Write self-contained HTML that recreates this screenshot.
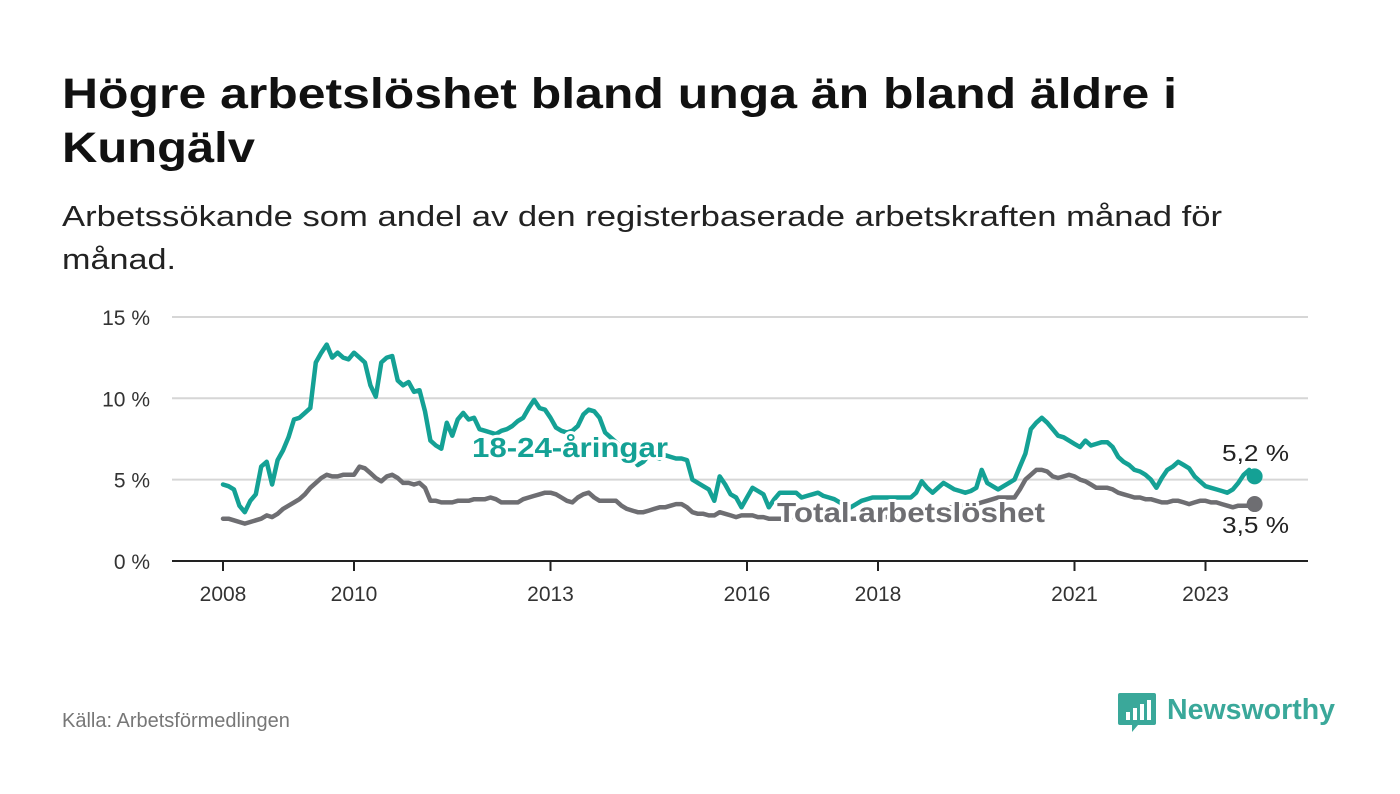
<!DOCTYPE html>
<html><head><meta charset="utf-8"><style>
html,body{margin:0;padding:0;background:#fff;}
svg{display:block;font-family:"Liberation Sans",sans-serif;}
</style></head><body>
<svg id="chart" width="1400" height="794" viewBox="0 0 1400 794" xmlns="http://www.w3.org/2000/svg">
<text x="62" y="108" font-size="43" font-weight="bold" fill="#111" textLength="1115" lengthAdjust="spacingAndGlyphs">Högre arbetslöshet bland unga än bland äldre i</text>
<text x="62" y="162" font-size="43" font-weight="bold" fill="#111" textLength="193" lengthAdjust="spacingAndGlyphs">Kungälv</text>
<text x="62" y="226" font-size="29" fill="#222" textLength="1160" lengthAdjust="spacingAndGlyphs">Arbetssökande som andel av den registerbaserade arbetskraften månad för</text>
<text x="62" y="269" font-size="29" fill="#222" textLength="114" lengthAdjust="spacingAndGlyphs">månad.</text>
<g id="grid"></g>
<g id="xaxis"></g>
<g id="series"></g>
<g id="labels"></g>
<text x="62" y="727" font-size="20" fill="#777">Källa: Arbetsförmedlingen</text>
<g>
<path d="M1120 693 h34 a2 2 0 0 1 2 2 v28 a2 2 0 0 1 -2 2 h-16 l-6 7 v-7 h-12 a2 2 0 0 1 -2 -2 v-28 a2 2 0 0 1 2 -2z" fill="#3aa89a"/>
<rect x="1126" y="712" width="4" height="8" fill="#fff"/><rect x="1133" y="708" width="4" height="12" fill="#fff"/><rect x="1140" y="704" width="4" height="16" fill="#fff"/><rect x="1147" y="700" width="4" height="20" fill="#fff"/>
<text x="1167" y="719" font-size="29" font-weight="bold" fill="#3aa89a" textLength="168" lengthAdjust="spacingAndGlyphs">Newsworthy</text>
</g>
</svg>
<script>
const youth = [
4.7,4.6,4.4,3.4,3.0,3.7,4.1,5.8,6.1,4.7,6.2,6.8,
7.6,8.7,8.8,9.1,9.4,12.2,12.8,13.3,12.5,12.8,12.5,12.4,
12.8,12.5,12.2,10.8,10.1,12.2,12.5,12.6,11.1,10.8,11.0,10.4,
10.5,9.2,7.4,7.1,6.9,8.5,7.7,8.7,9.1,8.7,8.8,8.1,
8.0,7.9,7.8,8.0,8.1,8.3,8.6,8.8,9.4,9.9,9.4,9.3,
8.8,8.2,8.0,7.9,8.0,8.3,9.0,9.3,9.2,8.8,7.9,7.6,
7.3,7.0,6.7,6.3,5.9,6.1,6.5,6.4,6.3,6.5,6.4,6.3,
6.3,6.2,5.0,4.8,4.6,4.4,3.7,5.2,4.7,4.1,3.9,3.3,
3.9,4.5,4.3,4.1,3.3,3.8,4.2,4.2,4.2,4.2,3.9,4.0,
4.1,4.2,4.0,3.9,3.8,3.6,3.4,3.3,3.5,3.7,3.8,3.9,
3.9,3.9,3.9,3.9,3.9,3.9,3.9,4.2,4.9,4.5,4.2,4.5,
4.8,4.6,4.4,4.3,4.2,4.3,4.5,5.6,4.8,4.6,4.4,4.6,
4.8,5.0,5.8,6.6,8.1,8.5,8.8,8.5,8.1,7.7,7.6,7.4,
7.2,7.0,7.4,7.1,7.2,7.3,7.3,7.0,6.4,6.1,5.9,5.6,
5.5,5.3,5.0,4.5,5.1,5.6,5.8,6.1,5.9,5.7,5.2,4.9,
4.6,4.5,4.4,4.3,4.2,4.4,4.8,5.3,5.6,5.2];
const total = [
2.6,2.6,2.5,2.4,2.3,2.4,2.5,2.6,2.8,2.7,2.9,3.2,
3.4,3.6,3.8,4.1,4.5,4.8,5.1,5.3,5.2,5.2,5.3,5.3,
5.3,5.8,5.7,5.4,5.1,4.9,5.2,5.3,5.1,4.8,4.8,4.7,
4.8,4.5,3.7,3.7,3.6,3.6,3.6,3.7,3.7,3.7,3.8,3.8,
3.8,3.9,3.8,3.6,3.6,3.6,3.6,3.8,3.9,4.0,4.1,4.2,
4.2,4.1,3.9,3.7,3.6,3.9,4.1,4.2,3.9,3.7,3.7,3.7,
3.7,3.4,3.2,3.1,3.0,3.0,3.1,3.2,3.3,3.3,3.4,3.5,
3.5,3.3,3.0,2.9,2.9,2.8,2.8,3.0,2.9,2.8,2.7,2.8,
2.8,2.8,2.7,2.7,2.6,2.6,2.6,2.6,2.7,2.7,2.6,2.6,
2.7,2.7,2.6,2.6,2.5,2.5,2.6,2.6,2.6,2.7,2.7,2.7,
2.7,2.7,2.7,2.8,2.8,2.9,2.9,3.0,3.0,3.1,3.1,3.2,
3.2,3.3,3.3,3.4,3.4,3.5,3.5,3.6,3.7,3.8,3.9,3.9,
3.9,3.9,4.4,5.0,5.3,5.6,5.6,5.5,5.2,5.1,5.2,5.3,
5.2,5.0,4.9,4.7,4.5,4.5,4.5,4.4,4.2,4.1,4.0,3.9,
3.9,3.8,3.8,3.7,3.6,3.6,3.7,3.7,3.6,3.5,3.6,3.7,
3.7,3.6,3.6,3.5,3.4,3.3,3.4,3.4,3.4,3.5];
const startYear = 2008;
const yTicks = [0,5,10,15];
const yTickLabels = ["0 %","5 %","10 %","15 %"];
const xTicks = [2008,2010,2013,2016,2018,2021,2023];

const NS="http://www.w3.org/2000/svg";
const x = t => 223 + (t - startYear) * 65.5;
const y = v => 561 - v * 16.27;
const mx = i => x(startYear + i/12);
function mk(tag, attrs, parent){const e=document.createElementNS(NS,tag);for(const k in attrs)e.setAttribute(k,attrs[k]);parent.appendChild(e);return e;}
const grid=document.getElementById('grid'), xa=document.getElementById('xaxis'), ser=document.getElementById('series'), lab=document.getElementById('labels');
yTicks.forEach((v,i)=>{
  const l=mk('line',{x1:172,x2:1308,y1:y(v),y2:y(v),stroke:v===0?'#222':'#d6d6d6','stroke-width':2},grid);
  
  
  const t=mk('text',{x:150,y:y(v)+8,'text-anchor':'end','font-size':21,fill:'#333'},grid);
  t.textContent=yTickLabels[i];
  
  
});
xTicks.forEach(yr=>{
  const l=mk('line',{x1:x(yr),x2:x(yr),y1:561,y2:571,stroke:'#222','stroke-width':2},xa);
  
  
  const t=mk('text',{x:x(yr),y:601,'text-anchor':'middle','font-size':21,fill:'#333'},xa);
  t.textContent=yr;
  
  
});
function line(data,color,name){
  const d=data.map((v,i)=>(i?'L':'M')+mx(i).toFixed(1)+' '+y(v).toFixed(1)).join(' ');
  const p=mk('path',{d:d,fill:'none',stroke:color,'stroke-width':4.5,'stroke-linejoin':'round','stroke-linecap':'round'},ser);
  
  
  const n=data.length-1;
  const c=mk('circle',{cx:mx(n),cy:y(data[n]),r:8,fill:color},ser);
  
  
}
line(total,'#6e6e72','total-line');
line(youth,'#14a195','youth-line');
function label(txt,xx,yy,color,size,bold,name,len){
  const t=mk('text',{x:xx,y:yy,fill:color,'font-size':size,'font-weight':bold?'bold':'normal',stroke:'#fff','stroke-width':6,'paint-order':'stroke','stroke-linejoin':'round'},lab);
  if(len){t.setAttribute('textLength',len);t.setAttribute('lengthAdjust','spacingAndGlyphs');}
  t.textContent=txt;
  
  
}
label('18-24-åringar',472,457,'#14a195',28,true,'youth-series-label',196);
label('Total arbetslöshet',777,522,'#6e6e72',28,true,'total-series-label',268);
label(youth[youth.length-1].toFixed(1).replace('.',',')+' %',1222,461,'#222',23,false,'youth-end-value',67);
label(total[total.length-1].toFixed(1).replace('.',',')+' %',1222,533,'#222',23,false,'total-end-value',67);
</script>
</body></html>
